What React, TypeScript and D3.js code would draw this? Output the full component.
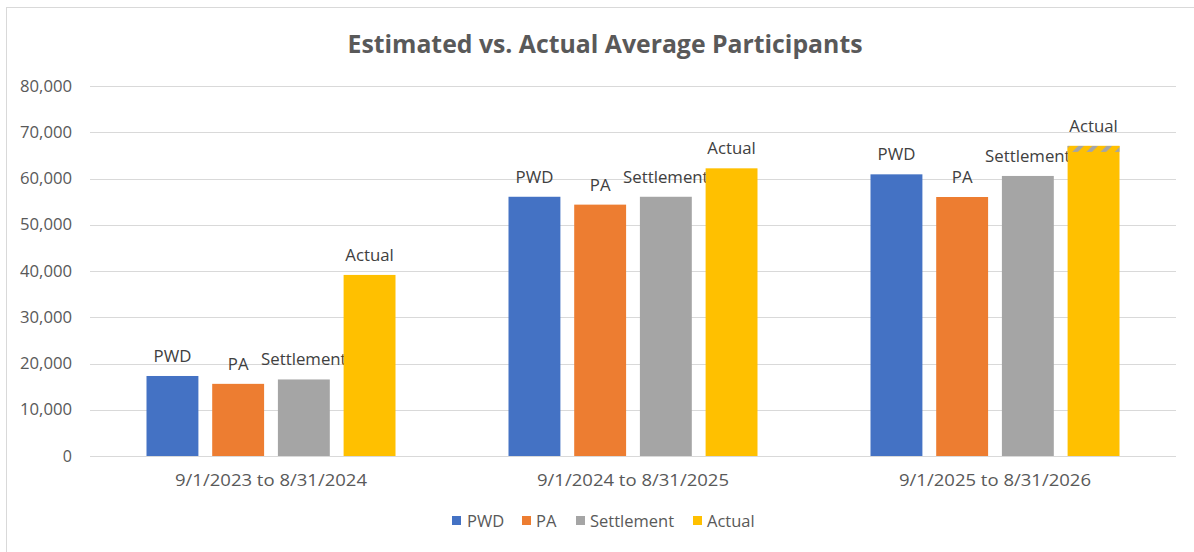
import React from "react";
import * as d3 from "d3";

const categories = ["9/1/2023 to 8/31/2024", "9/1/2024 to 8/31/2025", "9/1/2025 to 8/31/2026"];
const seriesNames = ["PWD", "PA", "Settlement", "Actual"];
const pwdValues = [17300, 56050, 60900];
const paValues = [15600, 54350, 56000];
const settlementValues = [16550, 56050, 60550];
const actualValues = [39150, 62200, 67050];
const actualHatched = [false, false, true];
const yTicks = [0, 10000, 20000, 30000, 40000, 50000, 60000, 70000, 80000];
const colors = ["#4472C4", "#ED7D31", "#A5A5A5", "#FFC000"];

const W = 1194;
const H = 552;
const FONT = "'Open Sans', 'Noto Sans', sans-serif";

export default function App() {
  const series = [pwdValues, paValues, settlementValues, actualValues];
  const x0 = d3.scaleBand<string>().domain(categories).range([90, 1176]).padding(0);
  const y = d3.scaleLinear().domain([0, 80000]).range([456, 86]);
  const cw = x0.bandwidth();
  const groupW = 249;
  const x1 = d3
    .scaleBand<string>()
    .domain(seriesNames)
    .range([(cw - groupW) / 2, (cw + groupW) / 2])
    .paddingInner(0.21)
    .paddingOuter(0);
  const fmt = d3.format(",");

  const legendItems = [
    { name: "PWD", sx: 452, tx: 467 },
    { name: "PA", sx: 522, tx: 536 },
    { name: "Settlement", sx: 576, tx: 590 },
    { name: "Actual", sx: 693, tx: 707 },
  ];

  return (
    <svg width={W} height={H} style={{ position: "absolute", left: 0, top: 0, background: "#fff" }} fontFamily={FONT}>
      <defs>
        <pattern id="hatch" patternUnits="userSpaceOnUse" width="10" height="10" patternTransform="rotate(45)">
          <rect width="10" height="10" fill="#FFC000" />
          <rect width="4" height="10" fill="#A5A5A5" />
        </pattern>
      </defs>
      <rect x={6.5} y={7.5} width={1200} height={560} fill="#fff" stroke="#d9d9d9" />
      <text x={605} y={53} textAnchor="middle" fontSize={24.8} fontWeight="bold" fill="#595959">
        Estimated vs. Actual Average Participants
      </text>
      {yTicks.map((t) => (
        <g key={t}>
          <line x1={90} x2={1176} y1={Math.round(y(t)) + 0.5} y2={Math.round(y(t)) + 0.5} stroke="#d9d9d9" strokeWidth={1} />
          <text x={72} y={y(t)} dy="0.35em" textAnchor="end" fontSize={16} fill="#595959" textLength={t === 0 ? undefined : 52} lengthAdjust="spacingAndGlyphs">
            {fmt(t)}
          </text>
        </g>
      ))}
      {categories.map((c, ci) => (
        <g key={c} transform={`translate(${x0(c)},0)`}>
          {seriesNames.map((s, si) => {
            const v = series[si][ci];
            const bx = x1(s)!;
            const bw = x1.bandwidth();
            return (
              <g key={s}>
                <rect x={bx} y={y(v)} width={bw} height={y(0) - y(v)} fill={colors[si]} />
                {si === 3 && actualHatched[ci] ? (
                  <rect x={bx} y={y(v)} width={bw} height={6} fill="url(#hatch)" />
                ) : null}
                <text x={bx + bw / 2} y={y(v) - 14} textAnchor="middle" fontSize={16.8} fill="#404040">
                  {s}
                </text>
              </g>
            );
          })}
          <text x={cw / 2} y={486} textAnchor="middle" fontSize={17} fill="#595959" textLength={192} lengthAdjust="spacingAndGlyphs">
            {c}
          </text>
        </g>
      ))}
      {legendItems.map((l, i) => (
        <g key={l.name}>
          <rect x={l.sx} y={516} width={9} height={9} fill={colors[i]} />
          <text x={l.tx} y={521} dy="0.35em" fontSize={16.5} fill="#595959">
            {l.name}
          </text>
        </g>
      ))}
    </svg>
  );
}
